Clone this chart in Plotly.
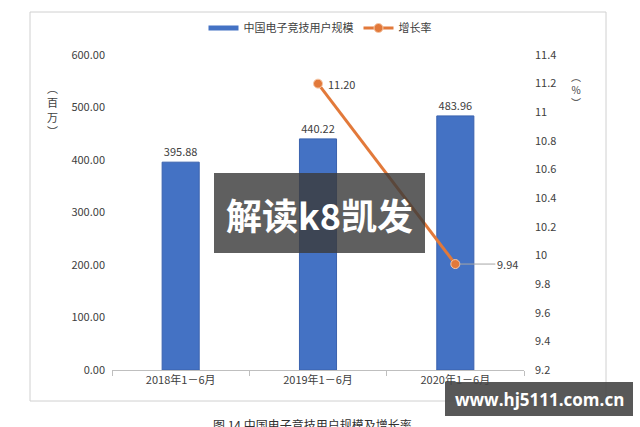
import plotly.graph_objects as go

# Chart data
categories = ["2018年1－6月", "2019年1－6月", "2020年1－6月"]
users_million = [395.88, 440.22, 483.96]
growth_categories = ["2019年1－6月", "2020年1－6月"]
growth_rate = [11.20, 9.94]
left_ticks = [0, 100, 200, 300, 400, 500, 600]
right_ticks = [9.2, 9.4, 9.6, 9.8, 10, 10.2, 10.4, 10.6, 10.8, 11, 11.2, 11.4]

W, H = 640, 427
FONT = "Noto Sans CJK SC"
BAR_COLOR = "#4472C4"
LINE_COLOR = "#E2793A"
TEXT_COLOR = "#404040"


def px_x(x):
    return x / W


def px_y(y):
    return (H - y) / H


fig = go.Figure()

# legend entry for the bars drawn as a thick flat strip
fig.add_trace(go.Scatter(
    x=[categories[0]], y=[None], name="中国电子竞技用户规模", mode="lines",
    line=dict(color=BAR_COLOR, width=5), showlegend=True, hoverinfo="skip",
))

fig.add_trace(go.Bar(
    x=categories, y=users_million, name="中国电子竞技用户规模", showlegend=False,
    marker=dict(color=BAR_COLOR, line=dict(color="#3A62AE", width=1)),
    width=0.27,
    text=[f"{v:.2f}" for v in users_million], textposition="outside",
    textfont=dict(size=11, color=TEXT_COLOR, family=FONT),
    cliponaxis=False,
))

fig.add_trace(go.Scatter(
    x=growth_categories, y=growth_rate, name="增长率", yaxis="y2",
    mode="lines+markers",
    line=dict(color=LINE_COLOR, width=3),
    marker=dict(size=9, color=LINE_COLOR, line=dict(color="#F6C8A8", width=1)),
    cliponaxis=False,
))

# value labels for the growth line
fig.add_annotation(x=growth_categories[0], y=growth_rate[0], yref="y2",
                   text=f"{growth_rate[0]:.2f}", showarrow=False,
                   xanchor="left", xshift=8,
                   font=dict(size=11, color=TEXT_COLOR, family=FONT))
fig.add_annotation(x=growth_categories[1], y=growth_rate[1], yref="y2",
                   text=f"{growth_rate[1]:.2f}", showarrow=True,
                   ax=40, ay=0, arrowhead=0, arrowwidth=1, arrowcolor="#A6A6A6",
                   xanchor="left", standoff=4,
                   font=dict(size=11, color=TEXT_COLOR, family=FONT))

fig.update_layout(
    width=W, height=H,
    margin=dict(l=0, r=0, t=0, b=0, autoexpand=False),
    paper_bgcolor="white", plot_bgcolor="white",
    font=dict(family=FONT, color=TEXT_COLOR, size=11),
    showlegend=True,
    legend=dict(orientation="h", x=0.5, xanchor="center", y=px_y(28), yanchor="middle",
                font=dict(size=11, color=TEXT_COLOR, family=FONT),
                bgcolor="rgba(0,0,0,0)"),
    xaxis=dict(type="category", categoryorder="array", categoryarray=categories,
               domain=[px_x(112), px_x(524)], showline=True, linecolor="#BFBFBF",
               linewidth=1, ticks="outside", tickson="boundaries", ticklen=5,
               tickcolor="#BFBFBF", showgrid=False, automargin=False,
               tickfont=dict(size=11, color=TEXT_COLOR, family=FONT)),
    yaxis=dict(domain=[px_y(370), px_y(55)], range=[0, 600], tickvals=left_ticks,
               ticktext=[f"{v:.2f}" for v in left_ticks], showgrid=False,
               zeroline=False, showline=False, ticklabelstandoff=6, automargin=False,
               tickfont=dict(size=11, color=TEXT_COLOR, family=FONT)),
    yaxis2=dict(overlaying="y", side="right", range=[9.2, 11.4], tickvals=right_ticks,
                ticktext=[f"{v:g}" for v in right_ticks], showgrid=False,
                zeroline=False, showline=False, ticklabelstandoff=10, automargin=False,
                tickfont=dict(size=11, color=TEXT_COLOR, family=FONT)),
)

# outer frame
fig.add_shape(type="rect", xref="paper", yref="paper",
              x0=px_x(30), x1=px_x(606), y0=px_y(401), y1=px_y(12),
              line=dict(color="#D0D0D0", width=1), fillcolor="rgba(0,0,0,0)", layer="below")

# axis unit labels written vertically
fig.add_annotation(xref="paper", yref="paper", x=px_x(45), y=px_y(78),
                   text="︵<br>百<br>万<br>︶", showarrow=False,
                   font=dict(size=11, color=TEXT_COLOR, family=FONT))
fig.add_annotation(xref="paper", yref="paper", x=px_x(583), y=px_y(67),
                   text="︵<br>%<br>︶", showarrow=False,
                   font=dict(size=10, color=TEXT_COLOR, family=FONT))

# figure caption
fig.add_annotation(xref="paper", yref="paper", x=px_x(312), y=px_y(424),
                   xanchor="center", yanchor="middle",
                   text="图 14 中国电子竞技用户规模及增长率", showarrow=False,
                   font=dict(size=12, color="#303030", family=FONT))

# overlay banners
fig.add_shape(type="rect", xref="paper", yref="paper",
              x0=px_x(214), x1=px_x(425), y0=px_y(253), y1=px_y(173),
              line=dict(width=0), fillcolor="rgba(60,60,60,0.82)", layer="above")
fig.add_annotation(xref="paper", yref="paper", x=px_x(319), y=px_y(214),
                   xanchor="center", yanchor="middle",
                   text="<b>解读k8凯发</b>", showarrow=False,
                   font=dict(size=36, color="white", family=FONT))
fig.add_shape(type="rect", xref="paper", yref="paper",
              x0=px_x(445), x1=px_x(633), y0=px_y(416), y1=px_y(382),
              line=dict(width=0), fillcolor="rgba(70,70,70,0.9)", layer="above")
fig.add_annotation(xref="paper", yref="paper", x=px_x(539), y=px_y(399),
                   xanchor="center", yanchor="middle",
                   text="<b>www.hj5111.com.cn</b>", showarrow=False,
                   font=dict(size=17, color="white", family="Open Sans"))

fig.write_html("out.html")
